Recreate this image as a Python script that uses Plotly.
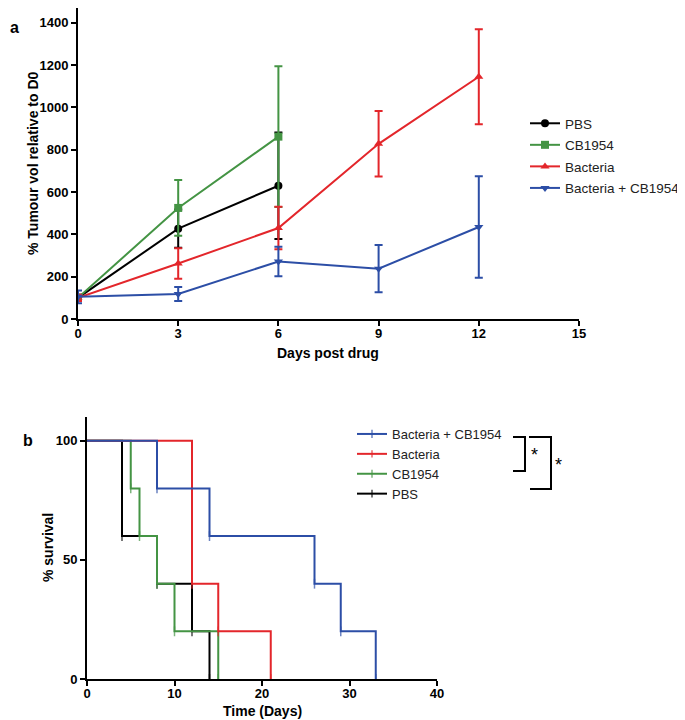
import plotly.graph_objects as go

# page body has an 8px margin; map reference pixels onto figure pixels
OFF = 8
W, H = 685 - OFF, 720 - OFF
def px(x): return (x - OFF) / W
def py(y): return 1 - (y - OFF) / H

# ---------------- Panel a data ----------------
series_a = ["PBS", "CB1954", "Bacteria", "Bacteria + CB1954"]
pbs_days = [0, 3, 6]
pbs_mean = [100, 427, 630]
pbs_err = [15, 90, 252]
cb_days = [0, 3, 6]
cb_mean = [100, 525, 862]
cb_err = [15, 132, 333]
bac_days = [0, 3, 6, 9, 12]
bac_mean = [100, 262, 430, 828, 1145]
bac_err = [15, 72, 100, 155, 225]
combo_days = [0, 3, 6, 9, 12]
combo_mean = [105, 118, 272, 238, 435]
combo_err = [30, 33, 70, 112, 240]

a_xticks = [0, 3, 6, 9, 12, 15]
a_yticks = [0, 200, 400, 600, 800, 1000, 1200, 1400]

# ---------------- Panel b data ----------------
km_names = ["PBS", "CB1954", "Bacteria", "Bacteria + CB1954"]
km_pbs_t = [0, 4, 8, 12, 14]
km_pbs_s = [100, 60, 40, 20, 0]
km_cb_t = [0, 5, 6, 8, 10, 15]
km_cb_s = [100, 80, 60, 40, 20, 0]
km_bac_t = [0, 12, 15, 21]
km_bac_s = [100, 40, 20, 0]
km_combo_t = [0, 8, 14, 26, 29, 33]
km_combo_s = [100, 80, 60, 40, 20, 0]

b_xticks = [0, 10, 20, 30, 40]
b_yticks = [0, 50, 100]

BLACK = "#000000"
GREEN = "#449444"
RED = "#e3262b"
BLUE = "#2c4ea6"
FONT = "Liberation Sans, Arial, sans-serif"

fig = go.Figure()

a_specs = [
    (series_a[0], pbs_days, pbs_mean, pbs_err, BLACK, "circle"),
    (series_a[1], cb_days, cb_mean, cb_err, GREEN, "square"),
    (series_a[2], bac_days, bac_mean, bac_err, RED, "triangle-up"),
    (series_a[3], combo_days, combo_mean, combo_err, BLUE, "triangle-down"),
]
for name, x, y, e, c, sym in a_specs:
    fig.add_trace(go.Scatter(
        x=x, y=y, name=name, mode="lines+markers",
        line=dict(color=c, width=2),
        marker=dict(color=c, symbol=sym, size=8),
        error_y=dict(type="data", array=e, visible=True, color=c, thickness=2, width=4),
        xaxis="x", yaxis="y", legend="legend", legendgroup=name,
    ))

b_specs = [
    (km_names[0], km_pbs_t, km_pbs_s, BLACK),
    (km_names[1], km_cb_t, km_cb_s, GREEN),
    (km_names[2], km_bac_t, km_bac_s, RED),
    (km_names[3], km_combo_t, km_combo_s, BLUE),
]
for name, t, s, c in b_specs:
    fig.add_trace(go.Scatter(
        x=t, y=s, name=name, mode="lines+markers",
        line=dict(color=c, width=2, shape="hv"),
        marker=dict(color=c, symbol="line-ns-open", size=[0] + [7] * (len(t) - 1),
                    line=dict(color=c, width=1.5)),
        xaxis="x2", yaxis="y2", legend="legend2", legendgroup="b" + name,
    ))

def bold(v):
    return ["<b>%s</b>" % t for t in v]

axis_common = dict(showgrid=False, zeroline=False, showline=True, linecolor="black",
                   linewidth=2, ticks="outside", ticklen=5, tickwidth=2, tickcolor="black",
                   automargin=False,
                   tickfont=dict(family=FONT, size=13, color="black"))

fig.update_layout(
    width=W, height=H, margin=dict(l=0, r=0, t=0, b=0, autoexpand=False),
    paper_bgcolor="white", plot_bgcolor="white",
    font=dict(family=FONT, color="black"),
    xaxis=dict(domain=[px(78), px(579)], range=[0, 15], anchor="y", ticklabelstandoff=-4,
               tickvals=a_xticks, ticktext=bold(a_xticks), **axis_common),
    yaxis=dict(domain=[py(319), py(8)], range=[0, 1470], anchor="x",
               tickvals=a_yticks, ticktext=bold(a_yticks), **axis_common),
    xaxis2=dict(domain=[px(87), px(437)], range=[0, 40], anchor="y2", ticklabelstandoff=-4,
                tickvals=b_xticks, ticktext=bold(b_xticks), **axis_common),
    yaxis2=dict(domain=[py(679), py(417)], range=[0, 110], anchor="x2",
                tickvals=b_yticks, ticktext=bold(b_yticks), **axis_common),
    legend=dict(x=px(525), y=py(108), xanchor="left", yanchor="top",
                font=dict(family=FONT, size=13.5, color="#222"),
                tracegroupgap=1, bgcolor="rgba(0,0,0,0)"),
    legend2=dict(x=px(352), y=py(419), xanchor="left", yanchor="top",
                 font=dict(family=FONT, size=13, color="#222"),
                 traceorder="reversed", tracegroupgap=0, bgcolor="rgba(0,0,0,0)"),
)

annots = [
    dict(text="<b>a</b>", x=px(8), y=py(28), size=16, xa="left"),
    dict(text="<b>b</b>", x=px(28), y=py(441), size=16),
    dict(text="<b>Days post drug</b>", x=px(328), y=py(353), size=14),
    dict(text="<b>% Tumour vol relative to D0</b>", x=px(33), y=py(163), size=14, angle=-90),
    dict(text="<b>Time (Days)</b>", x=px(262), y=py(711), size=14),
    dict(text="<b>% survival</b>", x=px(48), y=py(548), size=14, angle=-90),
    dict(text="*", x=px(534), y=py(455), size=18),
    dict(text="*", x=px(558), y=py(465), size=18),
]
for a in annots:
    fig.add_annotation(text=a["text"], x=a["x"], y=a["y"], xref="paper", yref="paper",
                       xanchor=a.get("xa", "center"), yanchor="middle",
                       showarrow=False, textangle=a.get("angle", 0),
                       font=dict(family=FONT, size=a["size"], color="black"))

# significance brackets
br = dict(type="path", xref="paper", yref="paper", line=dict(color="black", width=2))
fig.add_shape(path="M %f %f L %f %f L %f %f L %f %f" % (
    px(513), py(437), px(525), py(437), px(525), py(471), px(513), py(471)), **br)
fig.add_shape(path="M %f %f L %f %f L %f %f L %f %f" % (
    px(529), py(437), px(551), py(437), px(551), py(489), px(530), py(489)), **br)

fig.write_html("out.html")
